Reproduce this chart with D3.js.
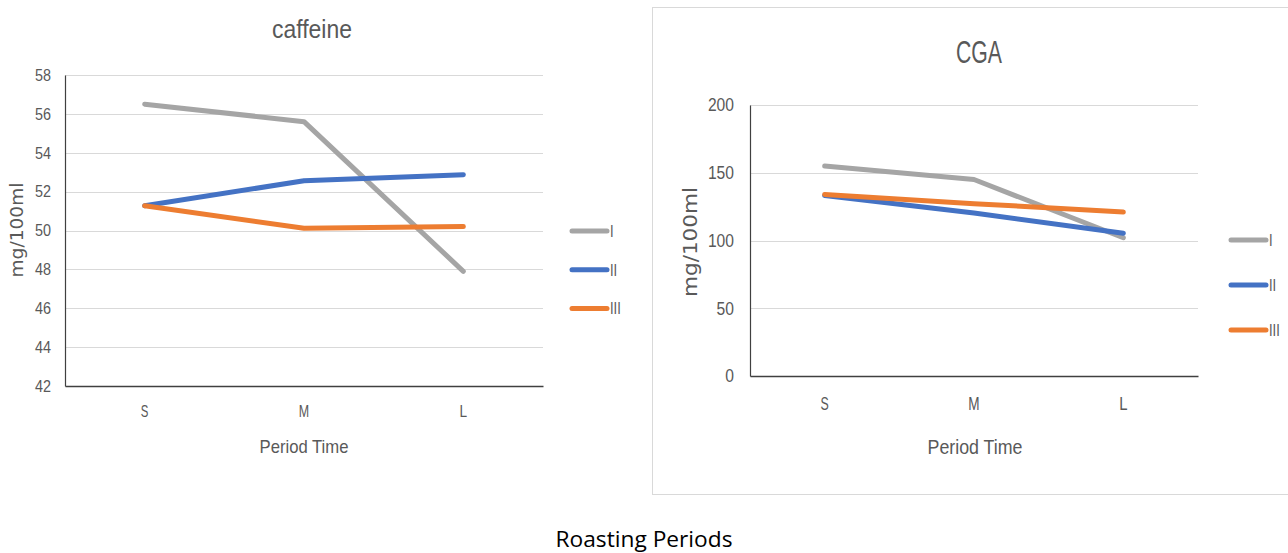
<!DOCTYPE html>
<html><head><meta charset="utf-8">
<script src="https://cdn.jsdelivr.net/npm/d3@7"></script>
<style>
body{margin:0;background:#fff;}
svg{display:block;}
</style></head>
<body><svg id="c" width="1288" height="553"></svg>
<script>
const categories = ["S", "M", "L"];
const seriesNames = ["I", "II", "III"];
const seriesColors = ["#a5a5a5", "#4472c4", "#ed7d31"];
const caffeineI = [56.5, 55.6, 47.9];
const caffeineII = [51.27, 52.56, 52.87];
const caffeineIII = [51.27, 50.12, 50.2];
const cgaI = [155, 145, 102];
const cgaII = [133.2, 120.3, 105.4];
const cgaIII = [134, 127.2, 121];
const caffeineTicks = [42, 44, 46, 48, 50, 52, 54, 56, 58];
const cgaTicks = [0, 50, 100, 150, 200];

const svg = d3.select("#c");
const sans = '"Liberation Sans",Arial,sans-serif';

// border of right chart
svg.append("rect").attr("x", 652.5).attr("y", 7.5).attr("width", 660).attr("height", 487)
  .attr("fill", "none").attr("stroke", "#d9d9d9").attr("stroke-width", 1);

function drawChart(cfg) {
  const g = svg.append("g");
  const x = d3.scaleBand().domain(categories).range([cfg.left, cfg.right]);
  const y = d3.scaleLinear().domain([cfg.ticks[0], cfg.ticks[cfg.ticks.length - 1]]).range([cfg.bottom, cfg.top]);

  g.append("g").selectAll("line").data(cfg.ticks.slice(1)).join("line")
    .attr("x1", cfg.left).attr("x2", cfg.right)
    .attr("y1", d => Math.round(y(d)) + 0.5).attr("y2", d => Math.round(y(d)) + 0.5)
    .attr("stroke", "#d9d9d9").attr("stroke-width", 1.2);

  const ya = g.append("g").attr("transform", `translate(${cfg.left},0)`)
    .call(d3.axisLeft(y).tickValues(cfg.ticks).tickSize(0).tickPadding(cfg.ytPad));
  ya.select(".domain").attr("stroke", "#404040").attr("stroke-width", 1.2);
  ya.selectAll("text").attr("font-size", cfg.tickFs).attr("fill", "#595959").attr("font-family", sans)
    .attr("textLength", d => String(d).length * cfg.digitW).attr("lengthAdjust", "spacingAndGlyphs");

  const xa = g.append("g").attr("transform", `translate(0,${cfg.bottom})`)
    .call(d3.axisBottom(x).tickSize(0).tickPadding(cfg.xtPad));
  xa.select(".domain").attr("stroke", "#404040").attr("stroke-width", 1.5);
  xa.selectAll("text").attr("font-size", cfg.tickFs).attr("fill", "#595959").attr("font-family", sans)
    .attr("textLength", d => d === "M" ? cfg.digitW * 1.3 : cfg.digitW * 0.95).attr("lengthAdjust", "spacingAndGlyphs");

  const line = d3.line().x((d, i) => x(categories[i]) + x.bandwidth() / 2).y(d => y(d));
  cfg.series.forEach((s, i) => {
    g.append("path").attr("d", line(s)).attr("fill", "none")
      .attr("stroke", seriesColors[i]).attr("stroke-width", 5)
      .attr("stroke-linecap", "round").attr("stroke-linejoin", "round");
  });

  g.append("text").attr("x", cfg.titleX).attr("y", cfg.titleY).attr("text-anchor", "middle")
    .attr("font-family", sans).attr("font-size", cfg.titleFs).attr("fill", "#595959")
    .attr("textLength", cfg.titleW).attr("lengthAdjust", "spacingAndGlyphs").text(cfg.title);

  g.append("text").attr("transform", `translate(${cfg.yTitleX},${cfg.yTitleY}) rotate(-90)`)
    .attr("text-anchor", "middle").attr("font-family", '"DejaVu Sans",Verdana,sans-serif')
    .attr("font-size", cfg.yTitleFs).attr("fill", "#595959")
    .attr("textLength", cfg.yTitleW).attr("lengthAdjust", "spacingAndGlyphs").text("mg/100ml");

  g.append("text").attr("x", cfg.xTitleX).attr("y", cfg.xTitleY).attr("text-anchor", "middle")
    .attr("font-family", sans).attr("font-size", cfg.xTitleFs).attr("fill", "#595959")
    .attr("textLength", cfg.xTitleW).attr("lengthAdjust", "spacingAndGlyphs").text("Period Time");

  seriesNames.forEach((n, i) => {
    const ly = cfg.legY + i * cfg.legStep;
    g.append("line").attr("x1", cfg.legX).attr("x2", cfg.legX + 35).attr("y1", ly).attr("y2", ly)
      .attr("stroke", seriesColors[i]).attr("stroke-width", 5).attr("stroke-linecap", "round");
    g.append("text").attr("x", cfg.legX + 38).attr("y", ly + 6).attr("font-family", sans)
      .attr("font-size", cfg.legFs).attr("fill", "#595959")
      .attr("textLength", n.length * 3.6).attr("lengthAdjust", "spacingAndGlyphs").text(n);
  });
}

drawChart({
  left: 65, right: 543, top: 75, bottom: 386, ticks: caffeineTicks,
  series: [caffeineI, caffeineII, caffeineIII],
  title: "caffeine", titleX: 312, titleY: 38, titleFs: 26, titleW: 80,
  yTitleX: 23, yTitleY: 230, yTitleFs: 17, yTitleW: 95,
  xTitleX: 304, xTitleY: 453, xTitleFs: 19, xTitleW: 89,
  tickFs: 16.5, digitW: 8, ytPad: 14, xtPad: 19,
  legX: 572, legY: 231, legStep: 38.7, legFs: 16
});

drawChart({
  left: 750, right: 1198, top: 105, bottom: 376, ticks: cgaTicks,
  series: [cgaI, cgaII, cgaIII],
  title: "CGA", titleX: 979, titleY: 63, titleFs: 31, titleW: 46,
  yTitleX: 697, yTitleY: 242, yTitleFs: 20, yTitleW: 110,
  xTitleX: 975, xTitleY: 454, xTitleFs: 21, xTitleW: 95,
  tickFs: 18, digitW: 8.7, ytPad: 16, xtPad: 21,
  legX: 1231, legY: 240, legStep: 45, legFs: 17
});

svg.append("text").attr("x", 644).attr("y", 547).attr("text-anchor", "middle")
  .attr("font-family", '"Open Sans",Lato,sans-serif').attr("font-size", 21).attr("fill", "#000")
  .attr("textLength", 177).attr("lengthAdjust", "spacingAndGlyphs")
  .text("Roasting Periods");
</script>
</body></html>
